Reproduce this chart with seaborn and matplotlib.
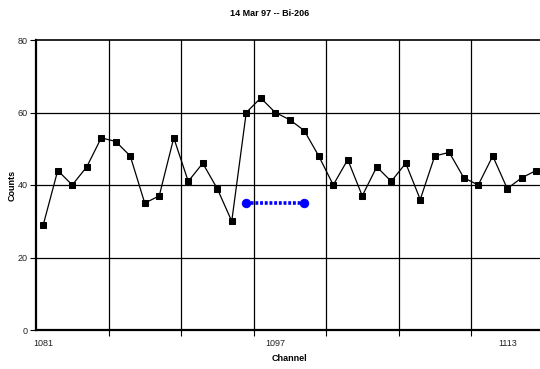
import matplotlib
matplotlib.use("Agg")
import matplotlib.pyplot as plt
import seaborn as sns
import pandas as pd
import numpy as np

# Spectrum counts per channel
channels = list(range(1081, 1116))
counts = [29, 44, 40, 45, 53, 52, 48, 35, 37, 53,
          41, 46, 39, 30, 60, 64, 60, 58, 55, 48,
          40, 47, 37, 45, 41, 46, 36, 48, 49, 42,
          40, 48, 39, 42, 44]

# Background level marker
bg_channels = [1095, 1099]
bg_counts = [35, 35]

tick_labels = [1081, 1097, 1113]

sns.set_theme(style="white")
plt.rcParams["font.family"] = ["Liberation Sans", "DejaVu Sans"]

fig = plt.figure(figsize=(5.40, 3.69), dpi=100)
ax = fig.add_axes([36 / 540, 1 - 330 / 369, 507.5 / 540, 290 / 369])

spec = pd.DataFrame({"Channel": channels, "Counts": counts})
bg = pd.DataFrame({"Channel": bg_channels, "Counts": bg_counts})

sns.lineplot(data=spec, x="Channel", y="Counts", ax=ax, color="black",
             lw=0.9, marker="s", markersize=3.7, markeredgecolor="black",
             markerfacecolor="black", zorder=3)
sns.lineplot(data=bg, x="Channel", y="Counts", ax=ax, color="#0000ff",
             lw=2.6, linestyle=(0, (0.8, 0.5)), marker="o", markersize=6,
             markeredgecolor="#0000ff", markerfacecolor="#0000ff", zorder=4)

ax.set_xlim(channels[0] - 0.5, channels[-1] + 0.5)
ax.set_ylim(0, 80)

# Category boundaries every 5 channels
bounds = np.arange(channels[0] - 0.5 + 5, channels[-1] + 0.6, 5)
ax.set_xticks(bounds)
ax.set_xticklabels([])
ax.set_xticks(tick_labels, minor=True)
ax.set_xticklabels([str(t) for t in tick_labels], minor=True)
ax.tick_params(axis="x", which="major", direction="out", length=4,
               width=0.8, color="black", bottom=True)
ax.tick_params(axis="x", which="minor", length=0, labelsize=6.5,
               pad=6.5, colors="#222222")

ax.set_yticks([0, 20, 40, 60, 80])
ax.tick_params(axis="y", which="major", direction="out", length=4,
               width=0.8, color="black", left=True, labelsize=6.5, pad=2,
               labelcolor="#222222")

for x in bounds:
    ax.axvline(x, color="black", lw=0.9, zorder=1)
for y in [20, 40, 60]:
    ax.axhline(y, color="black", lw=0.9, zorder=1)

for side in ["left", "bottom"]:
    ax.spines[side].set_color("black")
    ax.spines[side].set_linewidth(1.6)
ax.spines["top"].set_color("black")
ax.spines["top"].set_linewidth(1.2)
ax.spines["right"].set_visible(False)

ax.set_xlabel("Channel", fontsize=6.5, fontweight="bold", labelpad=4,
              color="black")
ax.set_ylabel("Counts", fontsize=6.5, fontweight="bold", labelpad=1,
              color="black")
fig.text(270 / 540, 1 - 13 / 369, "14 Mar 97 -- Bi-206", ha="center",
         va="center", fontsize=6.5, fontweight="bold", color="black")

fig.savefig("out.png", dpi=100)
